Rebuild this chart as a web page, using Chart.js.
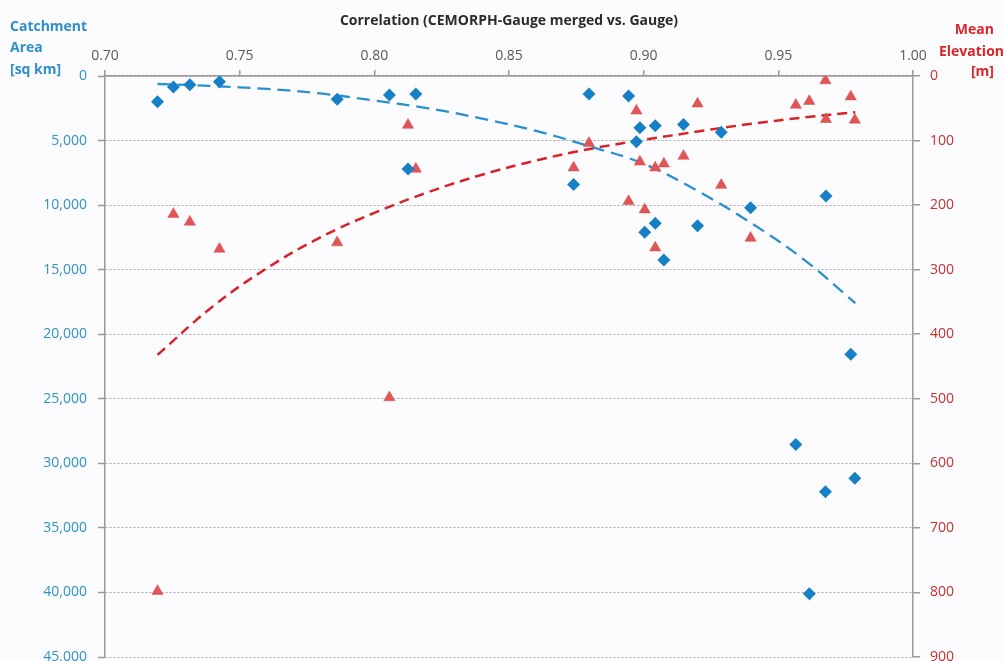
<!DOCTYPE html>
<html>
<head>
<meta charset="utf-8">
<script src="https://cdn.jsdelivr.net/npm/chart.js@4.4.1/dist/chart.umd.min.js"></script>
<style>
  html, body { margin: 0; padding: 0; background: #fcfcfe; overflow: hidden; }
  #wrap { width: 1004px; height: 661px; overflow: hidden; }
  #chart { display: block; }
</style>
</head>
<body>
<div id="wrap"><canvas id="chart" width="1004" height="700"></canvas></div>
<script>
// --- Data ---
// correlation (CEMORPH-Gauge merged vs. Gauge), one per catchment
const correlation = [0.7195, 0.7254, 0.7315, 0.7425, 0.7862, 0.8056, 0.8125, 0.8154, 0.8740,
    0.8797, 0.8944, 0.8973, 0.8986, 0.9004, 0.9043, 0.9043, 0.9075, 0.9148, 0.9200,
    0.9288, 0.9397, 0.9565, 0.9615, 0.9675, 0.9677, 0.9769, 0.9784];
// catchment area [sq km] (blue diamonds, left axis)
const catchmentArea = [2000, 850, 670, 440, 1800, 1470, 7200, 1400, 8400,
    1400, 1550, 5100, 4000, 12100, 3850, 11400, 14250, 3750, 11600,
    4350, 10200, 28550, 40100, 32200, 9300, 21550, 31150];
// mean elevation [m] (red triangles, right axis)
const meanElevation = [798, 214, 226, 268, 258, 498, 76, 144, 142,
    104, 194, 54, 133, 207, 142, 266, 136, 124, 43,
    169, 251, 45, 39, 7, 67, 32, 68];

// dashed trend lines
const trendX = [0.7195, 0.74, 0.76, 0.78, 0.80, 0.82, 0.84, 0.86, 0.88, 0.90, 0.92, 0.94, 0.96, 0.9786];
const areaTrend = [620, 780, 1000, 1350, 1900, 2500, 3300, 4250, 5450, 6800, 8900, 11400, 14300, 17600];
const elevTrend = [432, 357, 298, 250, 212, 180, 153, 131, 113, 99, 86, 74, 64, 56];

const xTitle = 'Correlation (CEMORPH-Gauge merged vs. Gauge)';
const leftTitle = ['Catchment', 'Area', '[sq km]'];
const rightTitle = ['Mean', 'Elevation', '[m]'];

const FONT = '"Open Sans", "DejaVu Sans", sans-serif';
const BLUE = '#1580c6';
const RED = '#e05656';

function pairs(xs, ys) {
    return xs.map((x, i) => ({ x: x, y: ys[i] }));
}

// axis titles that sit horizontally in the top corners
const sideTitles = {
    id: 'sideTitles',
    afterDraw(chart) {
        const ctx = chart.ctx;
        ctx.save();
        ctx.font = 'bold 14px ' + FONT;
        ctx.textBaseline = 'middle';
        ctx.fillStyle = '#2e8fca';
        ctx.textAlign = 'left';
        leftTitle.forEach((t, i) => ctx.fillText(t, 10, 27 + i * 21.5));
        ctx.fillStyle = '#d9262b';
        ctx.textAlign = 'right';
        ctx.fillText(rightTitle[0], 994, 30);
        ctx.fillText(rightTitle[1], 1004, 52);
        ctx.fillText(rightTitle[2], 994, 72);
        ctx.restore();
    }
};

new Chart(document.getElementById('chart'), {
    type: 'scatter',
    data: {
        datasets: [
            {
                label: 'Catchment Area',
                data: pairs(correlation, catchmentArea),
                yAxisID: 'yArea',
                pointStyle: 'rectRot',
                pointRadius: 6.5,
                backgroundColor: BLUE,
                borderColor: BLUE,
                borderWidth: 0
            },
            {
                label: 'Mean Elevation',
                data: pairs(correlation, meanElevation),
                yAxisID: 'yElev',
                pointStyle: 'triangle',
                pointRadius: 6.5,
                backgroundColor: RED,
                borderColor: '#d84848',
                borderWidth: 0.5
            },
            {
                label: 'Area trend',
                data: pairs(trendX, areaTrend),
                yAxisID: 'yArea',
                showLine: true,
                pointRadius: 0,
                borderColor: '#2a8fd0',
                borderWidth: 2.3,
                borderDash: [13, 7],
                tension: 0.4,
                fill: false
            },
            {
                label: 'Elevation trend',
                data: pairs(trendX, elevTrend),
                yAxisID: 'yElev',
                showLine: true,
                pointRadius: 0,
                borderColor: '#d8222a',
                borderWidth: 2.5,
                borderDash: [10, 6],
                tension: 0.4,
                fill: false
            }
        ]
    },
    options: {
        responsive: false,
        animation: false,
        layout: { padding: { left: 0, right: 0, top: 0, bottom: 43 } },
        plugins: {
            legend: { display: false },
            tooltip: { enabled: false }
        },
        scales: {
            x: {
                type: 'linear',
                position: 'top',
                min: 0.70,
                max: 1.00,
                afterFit: (s) => { s.height = 76; },
                ticks: {
                    stepSize: 0.05,
                    padding: 6,
                    color: '#595959',
                    font: { family: FONT, size: 14 },
                    callback: (v) => v.toFixed(2)
                },
                grid: { drawOnChartArea: false, tickLength: 6, color: '#9a9a9a', lineWidth: 1.5 },
                border: { color: '#9a9a9a', width: 1.5 },
                title: {
                    display: true,
                    text: xTitle,
                    color: '#2b2b2b',
                    font: { family: FONT, size: 14, weight: 'bold' },
                    padding: { top: 13, bottom: 0 }
                }
            },
            yArea: {
                type: 'linear',
                position: 'left',
                reverse: true,
                min: 0,
                max: 45000,
                afterFit: (s) => { s.width = 105; },
                ticks: {
                    stepSize: 5000,
                    padding: 11,
                    color: '#2e93c6',
                    font: { family: FONT, size: 14 },
                    callback: (v) => v.toLocaleString('en-US')
                },
                grid: { color: '#a8a8a8', lineWidth: 1, tickLength: 7, tickColor: '#9a9a9a', tickWidth: 1.5, tickBorderDash: [] },
                border: { color: '#9a9a9a', width: 1.5, dash: [2, 2] }
            },
            yElev: {
                type: 'linear',
                position: 'right',
                reverse: true,
                min: 0,
                max: 900,
                afterFit: (s) => { s.width = 91; },
                ticks: {
                    stepSize: 100,
                    padding: 10,
                    color: '#c8312f',
                    font: { family: FONT, size: 14 }
                },
                grid: { drawOnChartArea: false, tickLength: 7, color: '#9a9a9a', lineWidth: 1.5 },
                border: { color: '#9a9a9a', width: 1.5 }
            }
        }
    },
    plugins: [sideTitles]
});
</script>
</body>
</html>
